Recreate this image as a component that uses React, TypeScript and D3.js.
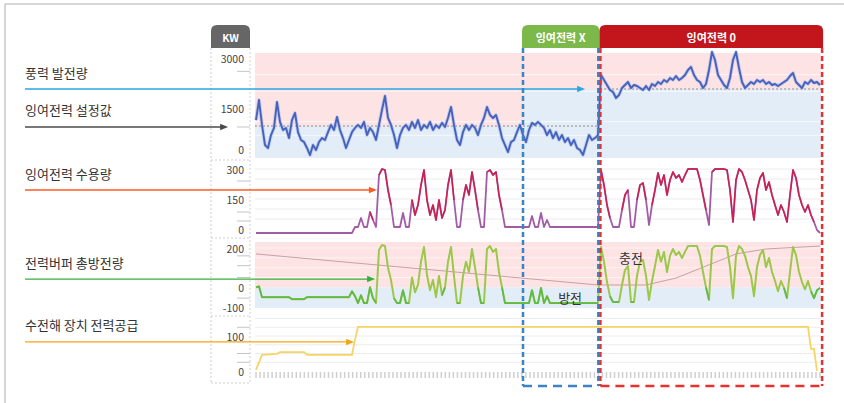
import React from 'react';
import * as d3 from 'd3';

const FONT = '"Noto Sans CJK KR", "Noto Sans", sans-serif';

// sample index 0..188 (time)
const windKW = [
  1060, 1740, 880, 145, 37, 510, 770, 1680, 990, 695,
  770, 400, 1060, 1320, 620, 330, 255, 37, -220, 145,
  -37, 255, 400, 330, 620, 880, 695, 1170, 695, 400,
  37, 330, 620, 770, 880, 770, 990, 510, 770, 620,
  330, 880, 1430, 1860, 1135, 880, 510, 37, 510, 770,
  880, 695, 990, 770, 1060, 695, 880, 770, 990, 695,
  880, 770, 955, 805, 1135, 1530, 880, 330, 145, 620,
  880, 695, 880, 770, 510, 880, 1135, 1530, 1245, 1135,
  1245, 880, 400, 145, -110, 255, 330, 620, 880, 510,
  255, 695, 955, 880, 990, 880, 770, 510, 695, 400,
  620, 330, 510, 255, 400, 145, 330, 37, -37, -220,
  145, 510, 330, 400, 510, 2490, 2340, 2190, 2040, 1980,
  1800, 1890, 2100, 2190, 2280, 2100, 2190, 2160, 2100, 2040,
  2160, 2040, 2220, 2160, 2280, 2220, 2340, 2280, 2400, 2340,
  2460, 2340, 2400, 2490, 2640, 2730, 2490, 2340, 2280, 2100,
  2220, 2640, 3180, 2940, 2490, 2340, 2190, 2100, 2400, 2940,
  3180, 2700, 2280, 2100, 2190, 2280, 2220, 2340, 2280, 2340,
  2220, 2280, 2190, 2220, 2160, 2220, 2280, 2340, 2460, 2550,
  2280, 2190, 2100, 2280, 2220, 2340, 2250, 2280, 2190,
];

const surplusAccepted = [
  -20, -20, -20, -20, -20, -20, -20, -20, -20, -20,
  -20, -20, -20, -20, -20, -20, -20, -20, -20, -20,
  -20, -20, -20, -20, -20, -20, -20, -20, -20, -20,
  -20, -20, -20, 10, 10, 55, 10, 10, 85, 45,
  10, 270, 300, 295, 195, 120, 10, 10, 10, 80,
  10, 10, 145, 70, 120, 220, 295, 145, 70, 120,
  45, 145, 55, 95, 220, 295, 145, 10, 10, 145,
  220, 170, 285, 195, 95, 10, 10, 285, 295, 270,
  285, 170, 95, 10, 10, 10, 10, 10, 10, 10,
  10, 10, 65, 10, 10, 80, 10, 45, 10, 10,
  10, 10, 10, 10, 10, 10, 10, 10, 10, 10,
  10, 10, 10, 10, 10, 295, 220, 120, 55, 10,
  10, 10, 95, 170, 195, 10, 10, 145, 220, 230,
  145, 20, 120, 195, 280, 220, 270, 170, 245, 285,
  255, 270, 235, 270, 300, 300, 300, 300, 245, 170,
  95, 20, 285, 300, 300, 300, 300, 295, 195, 35,
  245, 300, 285, 245, 195, 145, 45, 195, 255, 280,
  195, 235, 170, 120, 70, 120, 85, 35, 170, 295,
  255, 170, 120, 85, 120, 70, 35, -5, -20,
];

const bufferCharge = [
  0, 5, -50, -50, -50, -50, -50, -50, -50, -50,
  -50, -50, -60, -60, -60, -60, -60, -50, -50, -50,
  -50, -50, -50, -50, -50, -50, -50, -50, -50, -50,
  -50, -50, -20, -45, -80, -40, -80, -80, 0, -55,
  -80, 190, 215, 210, 100, 37, -55, -80, -80, -15,
  -80, -80, 50, -25, 12, 130, 205, 63, -15, 37,
  -50, 58, -40, 0, 130, 205, 58, -80, -80, 58,
  130, 78, 195, 103, 0, -80, -80, 195, 210, 180,
  195, 78, 0, -80, -80, -80, -80, -80, -80, -80,
  -80, -80, -15, -80, -80, -3, -80, -45, -80, -80,
  -80, -80, -80, -80, -80, -80, -80, -80, -80, -80,
  -80, -80, -80, -80, -80, 205, 130, 27, -45, -75,
  -75, -75, 12, 88, 108, -75, -75, 58, 130, 139,
  58, -64, 32, 108, 190, 130, 180, 78, 160, 195,
  164, 180, 149, 180, 210, 210, 210, 210, 160, 78,
  0, -64, 195, 210, 210, 210, 210, 205, 103, -55,
  160, 210, 195, 160, 103, 58, -45, 103, 164, 190,
  103, 149, 78, 32, -20, 32, -3, -55, 78, 205,
  164, 78, 27, -10, 32, -20, -55, -15, -3,
];

// [sample index, value]
const bufferSOC: [number, number][] = [
  [0, 170], [30, 128], [60, 87], [90, 45], [114, 12], [130, 12],
  [140, 47], [150, 108], [160, 170], [170, 195], [188, 210],
];

const electrolyzerSupply: [number, number][] = [
  [0, 3], [2, 46], [7, 49], [8, 54], [16, 54], [17, 46], [32, 46],
  [33, 89], [34, 126], [184, 126], [185, 63], [186, 63], [187, 0],
];

// setpoint segments [from, to, kW]
const setpointSegs: [number, number, number][] = [[-0.33, 114.2, 840], [114.7, 188.3, 2070]];
const windBandSplit: [number, number, number][] = [[-0.33, 89, 840], [89, 188.3, 2070]];

const sectionNames = ['잉여전력 X', '잉여전력 0'];
const sectionStart = [89, 114.8];
const sectionEnd = [114.1, 188.7];
const sectionFill = ['#7cb94a', '#c3161c'];
const sectionStroke = ['#3a84c6', '#e8312f'];

const seriesLabels = ['풍력 발전량', '잉여전력 설정값', '잉여전력 수용량', '전력버퍼 총방전량', '수전해 장치 전력공급'];
const arrowValues = [2070, 805, 195, 42, 83];
const arrowTipIndex = [109.7, -9.3, 40.3, 39.7, 32.7];
const arrowColors = ['#2ea6e0', '#4a4a4a', '#ff5b25', '#35b03b', '#f4a417'];

const ticks1 = [0, 1500, 3000];
const ticks2 = [0, 150, 300];
const ticks3 = [-100, 0, 200];
const ticks4 = [0, 100];
const minor1 = [2600, 805];
const minor2 = [240, 85, 40];
const minor3 = [160, 110, 50, -55];
const minor4 = [125, 50, 25];
const xTickCount = 141;

export default function App() {
  const x = d3.scaleLinear().domain([0, 188]).range([256, 820]);
  const xL = x(-0.33);
  const xR = x(188.3);
  const y1 = d3.scaleLinear().domain([0, 1500, 3000]).range([149, 108, 58]);
  const y2 = d3.scaleLinear().domain([0, 300]).range([229, 169]);
  const y3 = d3.scaleLinear().domain([-100, 200]).range([307, 248]);
  const y4 = d3.scaleLinear().domain([0, 100]).range([371, 336]);
  const ys = [y1, y1, y2, y3, y4];

  const lineIdx = (ys: any) => d3.line<number>().x((_, i) => x(i)).y((d) => ys(d));
  const linePair = (ys: any) => d3.line<[number, number]>().x((d) => x(d[0])).y((d) => ys(d[1]));

  const windPath = lineIdx(y1)(windKW) || '';
  const redPath = lineIdx(y2)(surplusAccepted) || '';
  const redHot = d3.line<number>().defined((d) => d > 30).x((_, i) => x(i)).y((d) => y2(d))(surplusAccepted) || '';
  const greenPath = lineIdx(y3)(bufferCharge) || '';
  const greenLow = d3.line<number>().defined((d) => d < 10).x((_, i) => x(i)).y((d) => y3(d))(bufferCharge) || '';
  const socPath = linePair(y3)(bufferSOC) || '';
  const yellowPath = linePair(y4)(electrolyzerSupply) || '';

  const pink = '#fde3e4';
  const blue = '#e3edf7';
  const colL = 211, colR = 250;
  const tickX = d3.scaleLinear().domain([0, xTickCount - 1]).range([256, 820]);

  const tickLabels = (scale: any, vals: number[]) =>
    vals.map((v) => (
      <text key={'t' + v} x={244} y={scale(v)} textAnchor="end" dominantBaseline="central" fontSize={10.5} fill="#444" fontFamily={FONT}>{v}</text>
    ));
  const minorTicks = (scale: any, vals: number[]) =>
    vals.map((v) => <line key={'m' + v} x1={237} x2={colR} y1={scale(v)} y2={scale(v)} stroke="#c4c4c4" strokeWidth={1} />);
  const grid = (scale: any, vals: number[], color: string, op: number) =>
    vals.map((v) => <line key={'g' + v} x1={xL} x2={xR} y1={scale(v)} y2={scale(v)} stroke={color} strokeOpacity={op} strokeWidth={1} />);

  const tabPath = (x0: number, x1: number, yTop: number, yBot: number, r: number) =>
    `M${x0},${yBot} L${x0},${yTop + r} Q${x0},${yTop} ${x0 + r},${yTop} L${x1 - r},${yTop} Q${x1},${yTop} ${x1},${yTop + r} L${x1},${yBot} Z`;

  return (
    <svg width={844} height={403} style={{ position: 'absolute', left: 0, top: 0, background: '#fff' }} fontFamily={FONT}>
      {/* frame */}
      <line x1={5} x2={844} y1={4} y2={4} stroke="#c8c8c8" strokeWidth={1.5} />
      <line x1={5} x2={5} y1={4} y2={403} stroke="#c8c8c8" strokeWidth={1.5} />

      {/* Panel 1 bands */}
      {windBandSplit.map(([a, b, kw], i) => (
        <g key={'b1' + i}>
          <rect x={x(a)} width={x(b) - x(a)} y={y1(3150)} height={y1(kw) - y1(3150)} fill={pink} />
          <rect x={x(a)} width={x(b) - x(a)} y={y1(kw)} height={y1(-330) - y1(kw)} fill={blue} />
        </g>
      ))}
      {grid(y1, [500, 1000, 2000, 2500], '#fff', 0.7)}
      {/* Panel 2 */}
      {grid(y2, [50, 100, 150, 200, 250, 300], '#ececec', 1)}
      {/* Panel 3 bands */}
      <rect x={xL} width={xR - xL} y={y3(230)} height={y3(0) - y3(230)} fill={pink} />
      <rect x={xL} width={xR - xL} y={y3(0)} height={y3(-105) - y3(0)} fill={blue} />
      {grid(y3, [50, 100, 150, 200], '#fff', 0.6)}
      {/* Panel 4 */}
      {grid(y4, [25, 50, 75, 100, 125, 150], '#ececec', 1)}

      {/* setpoint dashed */}
      {setpointSegs.map(([a, b, kw], i) => (
        <line key={'sp' + i} x1={x(a)} x2={x(b)} y1={y1(kw)} y2={y1(kw)} stroke="#8a8a8a" strokeWidth={1} strokeDasharray="2 2" />
      ))}

      {/* x ticks */}
      {d3.range(xTickCount).map((k) => (
        <line key={'xt' + k} x1={tickX(k)} x2={tickX(k)} y1={372} y2={378} stroke="#cfcfcf" strokeWidth={1.5} />
      ))}

      {/* series */}
      <path d={windPath} fill="none" stroke="#a9b8ea" strokeWidth={3.6} strokeOpacity={0.6} strokeLinejoin="round" />
      <path d={windPath} fill="none" stroke="#4563bd" strokeWidth={1.9} strokeLinejoin="round" />
      <path d={redPath} fill="none" stroke="#a25ca6" strokeWidth={1.8} strokeLinejoin="round" />
      <path d={redHot} fill="none" stroke="#d3143f" strokeWidth={1.5} strokeOpacity={0.85} strokeLinejoin="round" />
      <path d={socPath} fill="none" stroke="#c8a0a6" strokeWidth={1} />
      <path d={greenPath} fill="none" stroke="#9cc84a" strokeWidth={2} strokeLinejoin="round" />
      <path d={greenLow} fill="none" stroke="#5fbb45" strokeWidth={1.7} strokeLinejoin="round" />
      <path d={yellowPath} fill="none" stroke="#f6d466" strokeWidth={1.8} />

      {/* axis column */}
      <line x1={colL} x2={colL} y1={48} y2={383} stroke="#cfcfcf" strokeDasharray="2 2" />
      <line x1={colR} x2={colR} y1={48} y2={383} stroke="#cfcfcf" strokeDasharray="2 2" />
      {[160, 238, 316, 383].map((yy) => (
        <line key={'sep' + yy} x1={colL} x2={colR} y1={yy} y2={yy} stroke="#cfcfcf" strokeDasharray="2 2" />
      ))}
      {tickLabels(y1, ticks1)}
      {tickLabels(y2, ticks2)}
      {tickLabels(y3, ticks3)}
      {tickLabels(y4, ticks4)}
      {minorTicks(y1, minor1)}
      {minorTicks(y2, minor2)}
      {minorTicks(y3, minor3)}
      {minorTicks(y4, minor4)}
      <path d={tabPath(colL, colR, 25, 48, 6)} fill="#666" />
      <text x={(colL + colR) / 2} y={37} textAnchor="middle" dominantBaseline="central" fontSize={10.5} fontWeight="bold" fill="#fff">KW</text>

      {/* labels + arrows */}
      {seriesLabels.map((lab, i) => {
        const yy = ys[i](arrowValues[i]);
        const tip = x(arrowTipIndex[i]);
        return (
          <g key={'lab' + i}>
            <text x={25} y={yy - 17} dominantBaseline="central" fontSize={13} fill="#333">{lab}</text>
            <line x1={25} x2={tip - 5} y1={yy} y2={yy} stroke={arrowColors[i]} strokeWidth={1.3} />
            <path d={`M${tip},${yy} L${tip - 8},${yy - 3.2} L${tip - 8},${yy + 3.2} Z`} fill={arrowColors[i]} />
          </g>
        );
      })}

      {/* sections */}
      {sectionNames.map((nm, i) => {
        const a = x(sectionStart[i]);
        const b = x(sectionEnd[i]);
        return (
          <g key={'sec' + i}>
            <line x1={a} x2={a} y1={48} y2={386} stroke={sectionStroke[i]} strokeWidth={2.5} strokeDasharray="5 3" />
            <line x1={b} x2={b} y1={48} y2={386} stroke={sectionStroke[i]} strokeWidth={2.5} strokeDasharray="5 3" />
            <line x1={a} x2={b} y1={386} y2={386} stroke={sectionStroke[i]} strokeWidth={2.5} strokeDasharray="9 6" />
            <path d={tabPath(a - 1, b + 1, 25, 48, 6)} fill={sectionFill[i]} />
            <text x={(a + b) / 2} y={37} textAnchor="middle" dominantBaseline="central" fontSize={11} fontWeight="bold" fill="#fff">{nm}</text>
          </g>
        );
      })}

      <text x={x(125)} y={y3(150)} textAnchor="middle" dominantBaseline="central" fontSize={13} fill="#333">충전</text>
      <text x={x(104.7)} y={y3(-50)} textAnchor="middle" dominantBaseline="central" fontSize={13} fill="#333">방전</text>
    </svg>
  );
}
